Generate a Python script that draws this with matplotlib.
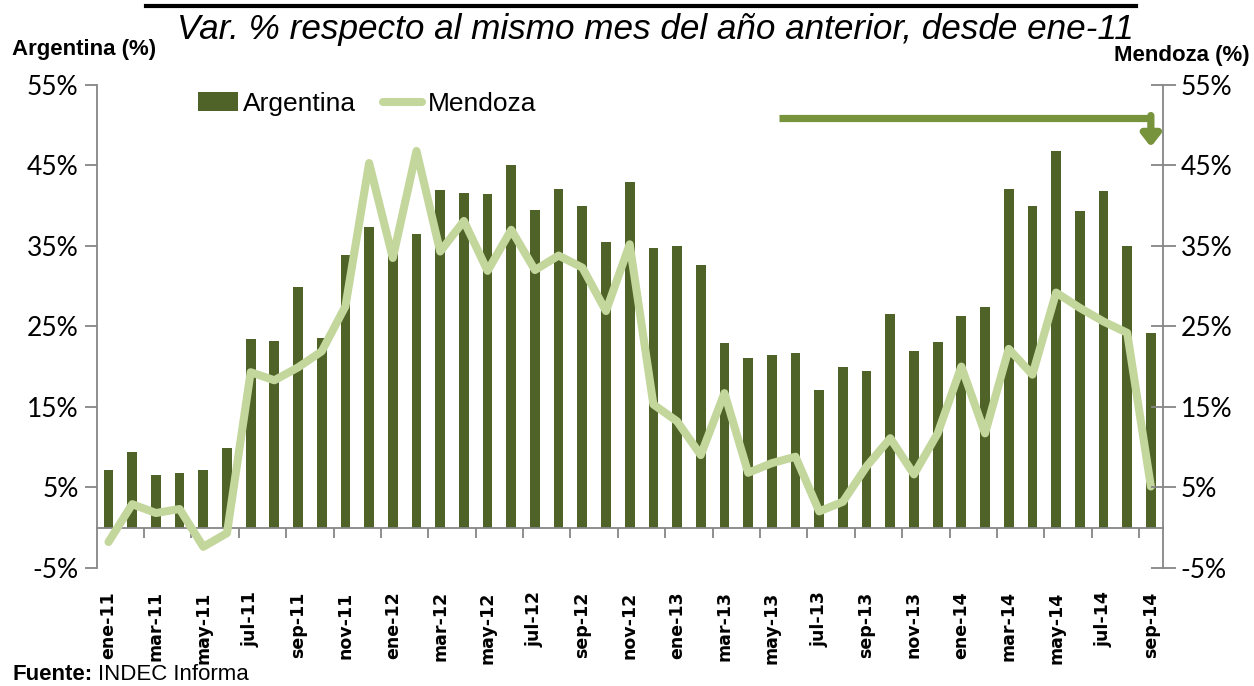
import matplotlib
matplotlib.use("Agg")
import matplotlib.pyplot as plt
import matplotlib.transforms as mtransforms
import numpy as np

months = ['ene-11','feb-11','mar-11','abr-11','may-11','jun-11','jul-11','ago-11','sep-11','oct-11','nov-11','dic-11',
          'ene-12','feb-12','mar-12','abr-12','may-12','jun-12','jul-12','ago-12','sep-12','oct-12','nov-12','dic-12',
          'ene-13','feb-13','mar-13','abr-13','may-13','jun-13','jul-13','ago-13','sep-13','oct-13','nov-13','dic-13',
          'ene-14','feb-14','mar-14','abr-14','may-14','jun-14','jul-14','ago-14','sep-14']

argentina = [7.1, 9.4, 6.5, 6.8, 7.1, 9.9, 23.4, 23.2, 29.9, 23.6, 33.9, 37.4,
             34.0, 36.5, 41.9, 41.6, 41.4, 45.0, 39.5, 42.1, 40.0, 35.5, 42.9, 34.7,
             35.0, 32.6, 22.9, 21.1, 21.4, 21.7, 17.1, 19.9, 19.5, 26.5, 22.0, 23.1,
             26.3, 27.4, 42.1, 39.9, 46.8, 39.4, 41.8, 35.0, 24.2]

mendoza = [-1.8, 2.9, 1.8, 2.3, -2.4, -0.7, 19.3, 18.3, 19.9, 21.9, 27.5, 45.3,
           33.5, 46.8, 34.3, 38.1, 31.9, 37.0, 32.0, 33.8, 32.3, 26.9, 35.2, 15.3,
           13.2, 9.0, 16.7, 6.8, 8.0, 8.8, 2.0, 3.2, 7.6, 11.1, 6.6, 11.7,
           20.0, 11.7, 22.2, 19.0, 29.2, 27.3, 25.6, 24.2, 5.1]

yticks = [-5, 5, 15, 25, 35, 45, 55]
ytick_labels = ['-5%', '5%', '15%', '25%', '35%', '45%', '55%']

bar_color = '#4F6228'
line_color = '#C3D69B'
arrow_color = '#77933C'
axis_color = '#868686'

sans = ['Liberation Sans', 'DejaVu Sans']

fig = plt.figure(figsize=(12.54, 6.86), dpi=100)
ax = fig.add_axes([0.0771, 0.1724, 0.8501, 0.7037])

x = np.arange(len(months))
bars = ax.bar(x, argentina, width=0.41, color=bar_color, label='Argentina', zorder=2)
line, = ax.plot(x, mendoza, color=line_color, lw=5.8, solid_joinstyle='round',
                solid_capstyle='round', label='Mendoza', zorder=3)

ax.set_xlim(-0.5, len(months) - 0.5)
ax.set_ylim(-5, 55)
ax.set_yticks(yticks)
ax.set_yticklabels(ytick_labels, fontfamily='Lato', fontsize=19)
ax.tick_params(axis='y', direction='out', length=9, width=1.3, color=axis_color, pad=4)

for s in ['top', 'right']:
    ax.spines[s].set_visible(False)
ax.spines['left'].set_color(axis_color)
ax.spines['left'].set_linewidth(1.3)
ax.spines['bottom'].set_position(('data', 0))
ax.spines['bottom'].set_color(axis_color)
ax.spines['bottom'].set_linewidth(1.3)
ax.set_xticks(np.arange(1.5, len(months) - 0.5, 2))
ax.set_xticklabels([])
ax.tick_params(axis='x', direction='out', length=7, width=1.3, color=axis_color)

trans = mtransforms.blended_transform_factory(ax.transData, fig.transFigure)
for i in range(0, len(months), 2):
    ax.text(i, 0.138, months[i], transform=trans, rotation=90, ha='center', va='top',
            fontsize=12.5, fontweight='bold', fontfamily='DejaVu Sans')

ax2 = ax.twinx()
ax2.set_ylim(-5, 55)
ax2.set_yticks(yticks)
ax2.set_yticklabels(ytick_labels, fontfamily='Lato', fontsize=19)
ax2.tick_params(axis='y', direction='inout', length=18, width=1.3, color=axis_color, pad=4)
for s in ['top', 'left', 'bottom']:
    ax2.spines[s].set_visible(False)
ax2.spines['right'].set_color(axis_color)
ax2.spines['right'].set_linewidth(1.3)

# arrow annotation
ax.plot([28.3, 44.0], [50.9, 50.9], color=arrow_color, lw=5.2, solid_capstyle='butt', zorder=4)
ax.annotate('', xy=(44.0, 47.3), xytext=(44.0, 51.2),
            arrowprops=dict(arrowstyle='-|>,head_length=0.7,head_width=0.55',
                            color=arrow_color, lw=5.2, shrinkA=0, shrinkB=0), zorder=4)

leg = ax.legend([bars, line], ['Argentina', 'Mendoza'], loc='upper left',
                bbox_to_anchor=(0.073, 1.035), ncol=2, frameon=False,
                prop={'family': 'Liberation Sans', 'size': 19}, handlelength=1.5,
                handletextpad=0.2, columnspacing=1.0)

# titles
fig.add_artist(plt.Line2D([146/1254, 1136/1254], [1 - 5.5/686, 1 - 5.5/686],
                          color='black', lw=3, transform=fig.transFigure))
fig.text(655/1254, 1 - 29/686, 'Var. % respecto al mismo mes del año anterior, desde ene-11',
         ha='center', va='center', fontsize=25.3, style='italic', fontfamily=sans)
fig.text(12/1254, 1 - 49/686, 'Argentina (%)', ha='left', va='center', fontsize=16,
         fontweight='bold', fontfamily=sans)
fig.text(1250/1254, 1 - 55/686, 'Mendoza (%)', ha='right', va='center', fontsize=16,
         fontweight='bold', fontfamily=sans)
fig.text(12/1254, 1 - 675/686, 'Fuente:', ha='left', va='center', fontsize=16,
         fontweight='bold', fontfamily=sans)
fig.text(98/1254, 1 - 675/686, 'INDEC Informa', ha='left', va='center', fontsize=16,
         fontfamily=sans)

fig.savefig('out.png', dpi=100)
